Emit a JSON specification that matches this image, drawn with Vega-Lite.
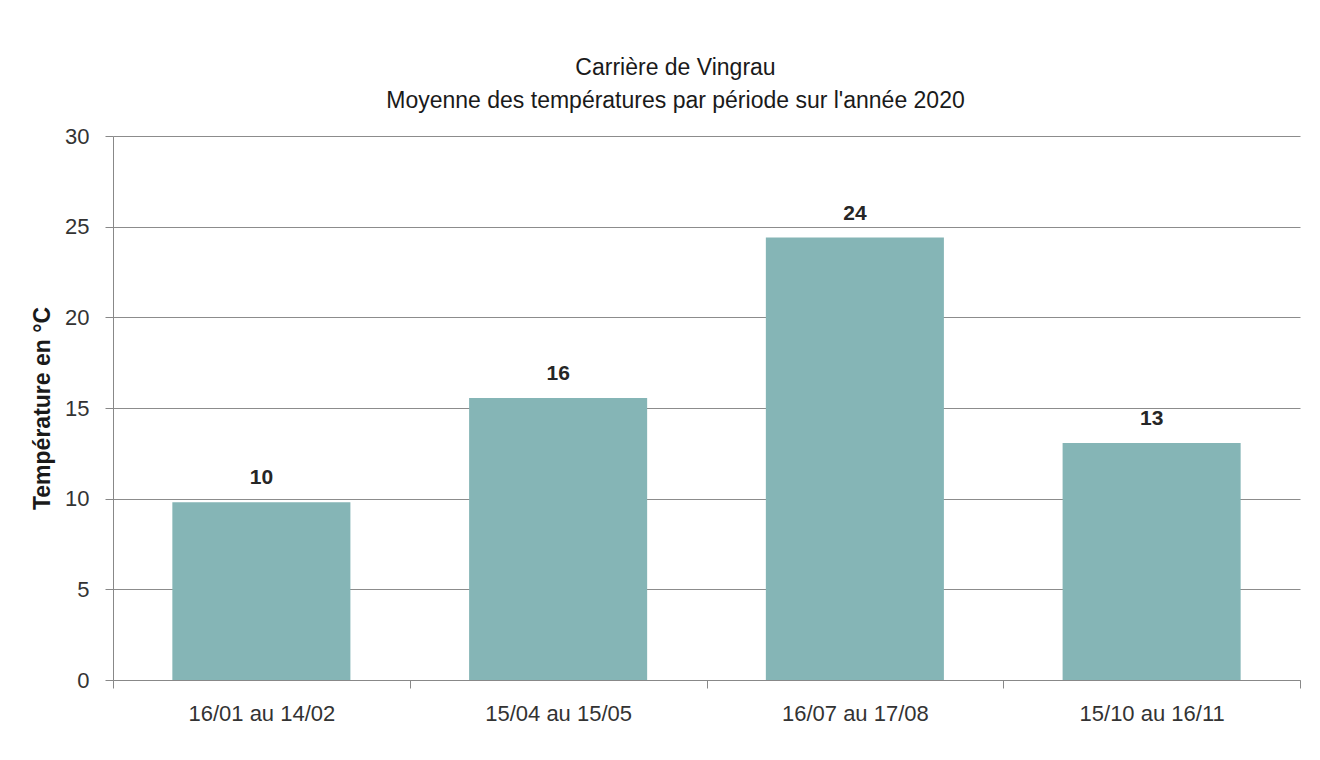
{
  "$schema": "https://vega.github.io/schema/vega-lite/v6.json",
  "autosize": "none",
  "width": 1187,
  "height": 544,
  "padding": {"left": 113, "top": 136, "right": 20, "bottom": 80},
  "background": "white",
  "config": {
    "view": {"stroke": null},
    "font": "Liberation Sans"
  },
  "title": {
    "text": ["Carrière de Vingrau", "Moyenne des températures par période sur l'année 2020"],
    "anchor": "middle",
    "dx": -31,
    "fontSize": 23,
    "fontWeight": "normal",
    "color": "#1a1a1a",
    "lineHeight": 33,
    "offset": 12,
    "font": "Liberation Sans"
  },
  "data": {
    "values": [
      {"periode": "16/01 au 14/02", "temperature": 9.8, "label": "10"},
      {"periode": "15/04 au 15/05", "temperature": 15.55, "label": "16"},
      {"periode": "16/07 au 17/08", "temperature": 24.4, "label": "24"},
      {"periode": "15/10 au 16/11", "temperature": 13.07, "label": "13"}
    ]
  },
  "encoding": {
    "x": {
      "field": "periode",
      "type": "nominal",
      "sort": null,
      "scale": {"paddingInner": 0, "paddingOuter": 0},
      "axis": {
        "title": null,
        "labelAngle": 0,
        "labelFontSize": 22,
        "labelColor": "#333333",
        "labelPadding": 15,
        "tickBand": "extent",
        "tickSize": 8,
        "tickColor": "#888888",
        "domainColor": "#888888",
        "grid": false
      }
    },
    "y": {
      "field": "temperature",
      "type": "quantitative",
      "scale": {"domain": [0, 30], "nice": false},
      "axis": {
        "title": "Température en °C",
        "titleFontSize": 23,
        "titleFontWeight": "bold",
        "titleColor": "#1a1a1a",
        "titlePadding": 10,
        "values": [0, 5, 10, 15, 20, 25, 30],
        "labelFontSize": 22,
        "labelColor": "#333333",
        "labelPadding": 16,
        "tickSize": 8,
        "tickColor": "#888888",
        "domainColor": "#888888",
        "gridColor": "#8c8c8c",
        "gridWidth": 1
      }
    }
  },
  "layer": [
    {
      "mark": {"type": "bar", "width": {"band": 0.6}, "color": "#85b5b6"}
    },
    {
      "mark": {"type": "text", "baseline": "bottom", "dy": -14, "fontSize": 21, "fontWeight": "bold", "color": "#262626"},
      "encoding": {"text": {"field": "label"}}
    }
  ]
}
